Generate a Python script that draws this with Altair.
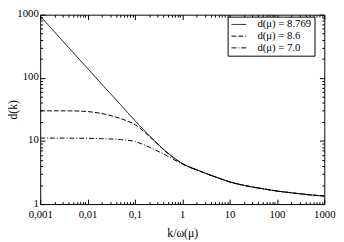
import altair as alt
import pandas as pd

# ---- data ----
k_values = [0.001, 0.002, 0.005, 0.01, 0.02, 0.05, 0.1, 0.2, 0.5, 1, 2, 5,
            10, 20, 50, 100, 200, 500, 1000]
d_8769 = [950, 534, 250, 141, 79, 37.5, 21, 12.2, 6.4, 4.4, 3.5, 2.7,
          2.25, 1.98, 1.75, 1.61, 1.51, 1.40, 1.34]
d_86 = [30, 30, 29.9, 29.2, 27.2, 22.6, 18.2, 11.9, 6.35, 4.39, 3.5, 2.7,
        2.25, 1.98, 1.75, 1.61, 1.51, 1.40, 1.34]
d_70 = [11.1, 11.1, 11.05, 11.0, 10.85, 10.5, 9.8, 8.0, 5.7, 4.3, 3.46, 2.69,
        2.25, 1.98, 1.75, 1.61, 1.51, 1.40, 1.34]
series_labels = ["d(μ) = 8.769", "d(μ) = 8.6", "d(μ) = 7.0"]

x_major = [0.001, 0.01, 0.1, 1, 10, 100, 1000]
y_major = [1, 10, 100, 1000]
x_minor = [m * 10.0 ** e for e in range(-3, 3) for m in range(2, 10)]
y_minor = [m * 10.0 ** e for e in range(0, 3) for m in range(2, 10)]

rows = []
for lab, vals in zip(series_labels, [d_8769, d_86, d_70]):
    for kk, dd in zip(k_values, vals):
        rows.append({"k": kk, "d": dd, "series": lab})
df = pd.DataFrame(rows)

W, H = 291, 194
FONT = "Liberation Serif"


def xs():
    return alt.Scale(type="log", domain=[0.001, 1000], nice=False)


def ys():
    return alt.Scale(type="log", domain=[1, 1000], nice=False)


main = alt.Chart(df).mark_line(color="black", strokeWidth=1, interpolate="monotone").encode(
    x=alt.X("k:Q", scale=xs(), axis=alt.Axis(
        orient="bottom", values=x_major,
        labelExpr="replace(toString(datum.value), '.', ',')",
        ticks=False, tickSize=0, domain=False, grid=False,
        labelFlush=False, labelOverlap=False, labelBound=False, labelPadding=5,
        labelFont=FONT, labelFontSize=11, labelColor="black",
        title="k/ω(μ)", titleFont=FONT, titleFontSize=12, titleFontWeight="normal",
        titleColor="black", titleY=29, titleBaseline="middle")),
    y=alt.Y("d:Q", scale=ys(), axis=alt.Axis(
        orient="left", values=y_major,
        labelExpr="toString(datum.value)",
        ticks=False, tickSize=0, domain=False, grid=False,
        labelFlush=False, labelOverlap=False, labelBound=False, labelPadding=2,
        labelOffset=-1,
        labelFont=FONT, labelFontSize=11, labelColor="black",
        title="d(k)", titleFont=FONT, titleFontSize=12, titleFontWeight="normal",
        titleColor="black", titleX=-28, titleY=H / 2, titleBaseline="middle")),
    strokeDash=alt.StrokeDash("series:N", title=None,
        scale=alt.Scale(domain=series_labels, range=[[1, 0], [5, 2], [5, 2, 1, 2]]),
        legend=alt.Legend(orient="none", legendX=192, legendY=2,
                          strokeColor="black", fillColor="white", padding=2.5,
                          cornerRadius=0, symbolType="M-1,0H2.75", symbolSize=64,
                          symbolStrokeWidth=1, symbolStrokeColor="black",
                          labelFont=FONT, labelFontSize=11, labelColor="black",
                          labelOffset=17, rowPadding=0)),
)


def tick_layer(x_orient, y_orient, xv, yv, size):
    return alt.Chart(df).mark_point(opacity=0).encode(
        x=alt.X("k:Q", scale=xs(), axis=alt.Axis(
            orient=x_orient, offset=-H, values=xv, tickSize=size, labels=False,
            domain=False, grid=False, title="", tickColor="black", tickWidth=1)),
        y=alt.Y("d:Q", scale=ys(), axis=alt.Axis(
            orient=y_orient, offset=-W, values=yv, tickSize=size, labels=False,
            domain=False, grid=False, title="", tickColor="black", tickWidth=1)),
    )


t1 = tick_layer("top", "right", x_major, y_major, 5)      # bottom & left inside ticks
t2 = tick_layer("bottom", "left", x_major, y_major, 5)    # top & right inside ticks
t3 = tick_layer("top", "right", x_minor, y_minor, 2.5)
t4 = tick_layer("bottom", "left", x_minor, y_minor, 2.5)

chart = alt.layer(main, t1, t2, t3, t4).resolve_axis(
    x="independent", y="independent"
).properties(
    width=W, height=H,
    padding={"left": 33, "top": 4, "right": 12, "bottom": 36},
    autosize=alt.AutoSizeParams(type="none"),
    background="white",
).configure_view(stroke="black", strokeWidth=1)

chart.save("out.html", embed_options={"renderer": "svg", "actions": False})
